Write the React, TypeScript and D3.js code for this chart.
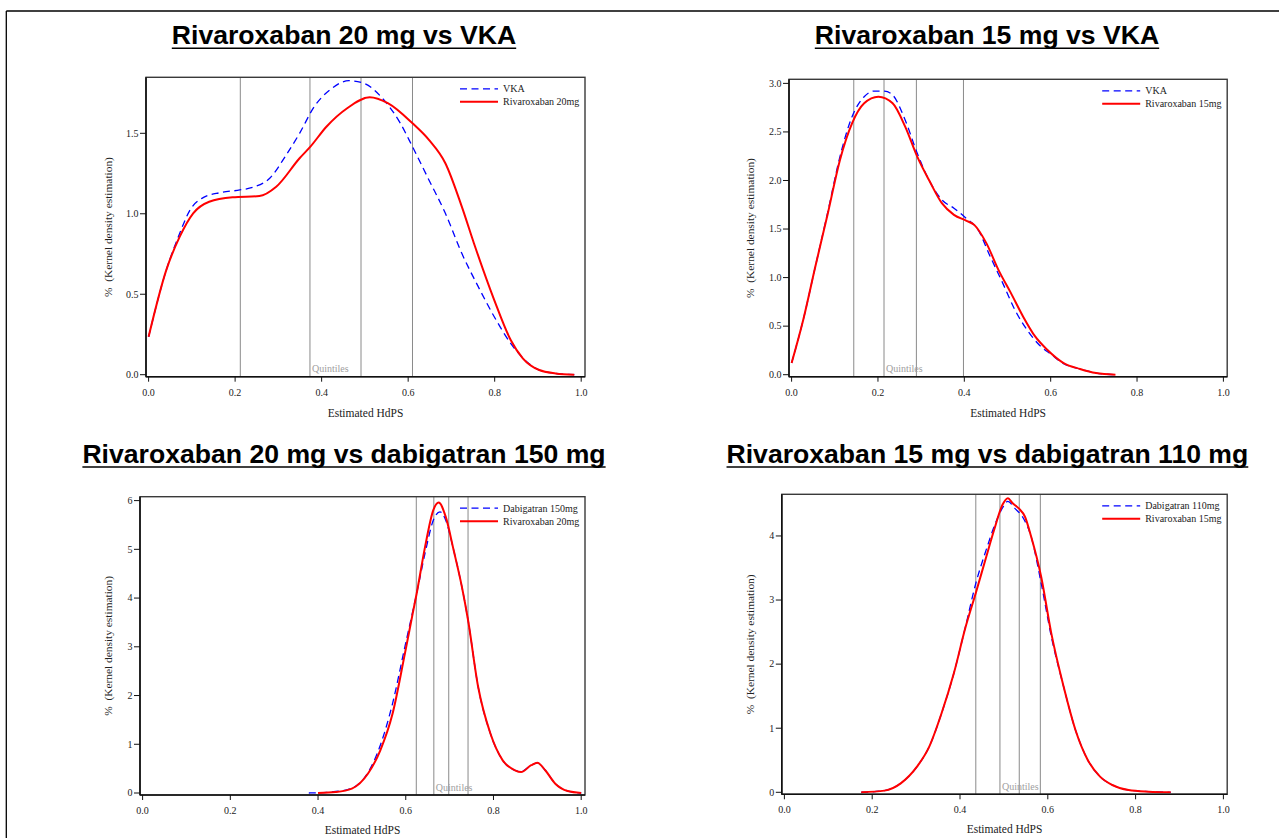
import React, { useLayoutEffect, useRef, useState } from 'react';
import * as d3 from 'd3';

type Pt = [number, number];

// Kernel density curves: [estimated HdPS, density]
const vkaVsR20: Pt[] = [
  [0, 0.236], [0.041, 0.651], [0.072, 0.879], [0.095, 1.02], [0.126, 1.1], [0.165, 1.131],
  [0.211, 1.148], [0.242, 1.165], [0.28, 1.221], [0.318, 1.365], [0.349, 1.5], [0.383, 1.666],
  [0.421, 1.774], [0.463, 1.827], [0.497, 1.811], [0.544, 1.707], [0.582, 1.562], [0.61, 1.417],
  [0.648, 1.21], [0.686, 1.003], [0.724, 0.754], [0.762, 0.547], [0.799, 0.36], [0.837, 0.195],
  [0.865, 0.104], [0.903, 0.029], [0.941, 0.008], [0.984, 0],
];
const r20VsVka: Pt[] = [
  [0, 0.236], [0.041, 0.651], [0.072, 0.858], [0.103, 1.003], [0.14, 1.075], [0.194, 1.103],
  [0.256, 1.11], [0.295, 1.168], [0.349, 1.345], [0.374, 1.417], [0.411, 1.541], [0.459, 1.656],
  [0.511, 1.724], [0.553, 1.687], [0.61, 1.562], [0.648, 1.459], [0.686, 1.314], [0.724, 1.044],
  [0.752, 0.817], [0.799, 0.464], [0.837, 0.216], [0.865, 0.102], [0.903, 0.029], [0.941, 0.008],
  [0.984, 0],
];
const vkaVsR15: Pt[] = [
  [0, 0.12], [0.027, 0.566], [0.055, 1.114], [0.084, 1.68], [0.112, 2.246], [0.14, 2.657],
  [0.168, 2.863], [0.19, 2.92], [0.215, 2.92], [0.234, 2.88], [0.263, 2.623], [0.291, 2.28],
  [0.32, 1.989], [0.348, 1.8], [0.376, 1.715], [0.404, 1.612], [0.432, 1.49], [0.46, 1.217],
  [0.489, 0.943], [0.517, 0.669], [0.545, 0.463], [0.573, 0.309], [0.602, 0.206], [0.63, 0.113],
  [0.668, 0.059], [0.705, 0.017], [0.75, 0],
];
const r15VsVka: Pt[] = [
  [0, 0.12], [0.027, 0.566], [0.055, 1.114], [0.084, 1.663], [0.112, 2.212], [0.14, 2.589],
  [0.168, 2.795], [0.201, 2.863], [0.234, 2.795], [0.263, 2.555], [0.291, 2.246], [0.32, 1.989],
  [0.348, 1.766], [0.376, 1.646], [0.404, 1.587], [0.423, 1.543], [0.451, 1.355], [0.479, 1.08],
  [0.508, 0.84], [0.536, 0.6], [0.564, 0.394], [0.592, 0.257], [0.63, 0.12], [0.668, 0.059],
  [0.705, 0.017], [0.75, 0],
];
const dabi150: Pt[] = [
  [0.379, 0], [0.43, 0.02], [0.477, 0.1], [0.514, 0.42], [0.542, 0.98], [0.57, 1.84],
  [0.598, 3.0], [0.625, 4.1], [0.644, 4.92], [0.663, 5.6], [0.678, 5.77], [0.691, 5.6],
  [0.709, 4.99], [0.728, 4.23], [0.742, 3.55], [0.765, 2.18], [0.793, 1.22], [0.821, 0.67],
  [0.849, 0.466], [0.863, 0.44], [0.886, 0.57], [0.9, 0.62], [0.918, 0.466], [0.941, 0.19],
  [0.969, 0.04], [1.0, 0],
];
const r20VsDabi: Pt[] = [
  [0.4, 0], [0.44, 0.02], [0.477, 0.09], [0.514, 0.4], [0.542, 0.877], [0.57, 1.63],
  [0.598, 2.86], [0.616, 3.69], [0.625, 4.1], [0.644, 5.05], [0.663, 5.81], [0.675, 5.96],
  [0.691, 5.67], [0.709, 4.99], [0.728, 4.23], [0.742, 3.55], [0.765, 2.18], [0.793, 1.22],
  [0.821, 0.67], [0.849, 0.466], [0.863, 0.43], [0.886, 0.57], [0.9, 0.62], [0.918, 0.466],
  [0.941, 0.19], [0.969, 0.04], [1.0, 0],
];
const dabi110: Pt[] = [
  [0.175, 0], [0.228, 0.026], [0.265, 0.14], [0.302, 0.4], [0.33, 0.713], [0.358, 1.233],
  [0.386, 1.857], [0.413, 2.6], [0.436, 3.26], [0.46, 3.79], [0.478, 4.15], [0.497, 4.44],
  [0.509, 4.54], [0.525, 4.43], [0.544, 4.28], [0.562, 3.99], [0.585, 3.26], [0.608, 2.43],
  [0.636, 1.65], [0.663, 0.973], [0.691, 0.505], [0.719, 0.245], [0.747, 0.114], [0.784, 0.036],
  [0.83, 0.01], [0.88, 0],
];
const r15VsDabi: Pt[] = [
  [0.175, 0], [0.228, 0.026], [0.265, 0.14], [0.302, 0.4], [0.33, 0.713], [0.358, 1.233],
  [0.386, 1.857], [0.413, 2.586], [0.436, 3.11], [0.46, 3.68], [0.478, 4.1], [0.497, 4.49],
  [0.509, 4.59], [0.52, 4.51], [0.534, 4.43], [0.548, 4.3], [0.562, 3.99], [0.585, 3.36],
  [0.608, 2.48], [0.636, 1.65], [0.663, 0.973], [0.691, 0.505], [0.719, 0.245], [0.747, 0.114],
  [0.784, 0.036], [0.83, 0.01], [0.88, 0],
];

// Quintile cut points of the estimated HdPS
const quintilesR20Vka = [0.212, 0.373, 0.491, 0.61];
const quintilesR15Vka = [0.144, 0.214, 0.289, 0.398];
const quintilesR20Dabi = [0.624, 0.664, 0.698, 0.742];
const quintilesR15Dabi = [0.436, 0.491, 0.535, 0.583];

const xTicks = [0, 0.2, 0.4, 0.6, 0.8, 1.0];
const yTicksR20Vka = [0, 0.5, 1.0, 1.5];
const yTicksR15Vka = [0, 0.5, 1.0, 1.5, 2.0, 2.5, 3.0];
const yTicksR20Dabi = [0, 1, 2, 3, 4, 5, 6];
const yTicksR15Dabi = [0, 1, 2, 3, 4];

const SERIF = "'Liberation Serif', 'DejaVu Serif', serif";
const SANS = "'Liberation Sans', Arial, sans-serif";

// Bold centred title with a thin rule under it, sized to the rendered text
function Title({ text, x, y }: { text: string; x: number; y: number }) {
  const ref = useRef<SVGTextElement>(null);
  const [w, setW] = useState(0);
  useLayoutEffect(() => {
    if (ref.current) setW(ref.current.getComputedTextLength());
  }, [text]);
  return (
    <g>
      <text
        ref={ref}
        x={x}
        y={y}
        textAnchor="middle"
        fontFamily={SANS}
        fontWeight="bold"
        fontSize={26.6}
        fill="#000"
      >
        {text}
      </text>
      {w > 0 && (
        <line x1={x - w / 2} x2={x + w / 2} y1={y + 4.3} y2={y + 4.3} stroke="#000" strokeWidth={1.4} />
      )}
    </g>
  );
}

interface PanelProps {
  id: string;
  title: string;
  titleX: number;
  titleY: number;
  frame: { x0: number; y0: number; x1: number; y1: number };
  yMax: number;
  yTicks: number[];
  yFmt: (v: number) => string;
  yLabelX: number;
  xLabelDy: number;
  quintiles: number[];
  blue: Pt[];
  red: Pt[];
  blueLabel: string;
  redLabel: string;
}

function Panel(p: PanelProps) {
  const { x0, y0, x1, y1 } = p.frame;
  const x = d3.scaleLinear().domain([0, 1]).range([x0 + 2.6, x1 - 3.8]);
  const y = d3.scaleLinear().domain([0, p.yMax]).range([y1 - 2, y0]);
  const line = d3
    .line<Pt>()
    .x((d) => x(d[0]))
    .y((d) => y(d[1]))
    .curve(d3.curveMonotoneX);
  const cx = (x0 + x1) / 2;
  const cy = (y0 + y1) / 2;
  const lx = x1 - 125;
  return (
    <g>
      <Title text={p.title} x={p.titleX} y={p.titleY} />
      <clipPath id={`clip-${p.id}`}>
        <rect x={x0} y={y0} width={x1 - x0} height={y1 - y0} />
      </clipPath>
      {p.quintiles.map((q, i) => (
        <line key={i} x1={x(q)} x2={x(q)} y1={y0} y2={y1} stroke="#8a8a8a" strokeWidth={1} />
      ))}
      <text
        x={x(p.quintiles[1]) + 2}
        y={y1 - 4.4}
        fontFamily={SERIF}
        fontSize={10}
        fill="#a0a0a0"
      >
        Quintiles
      </text>
      <g clipPath={`url(#clip-${p.id})`}>
        <path d={line(p.blue) || ''} fill="none" stroke="#0000ff" strokeWidth={1.3} strokeDasharray="7,4.5" />
        <path d={line(p.red) || ''} fill="none" stroke="#ff0000" strokeWidth={2} />
      </g>
      <rect x={x0} y={y0} width={x1 - x0} height={y1 - y0} fill="none" stroke="#3a3a3a" strokeWidth={1.4} />
      <line x1={x0} x2={x0} y1={y0} y2={y1} stroke="#111" strokeWidth={1.6} />
      <line x1={x0} x2={x1} y1={y1} y2={y1} stroke="#111" strokeWidth={1.6} />
      {xTicks.map((t) => (
        <g key={`x${t}`}>
          <line x1={x(t)} x2={x(t)} y1={y1} y2={y1 + 5} stroke="#111" strokeWidth={1} />
          <text x={x(t)} y={y1 + 18.8} textAnchor="middle" fontFamily={SERIF} fontSize={10} fill="#222">
            {t.toFixed(1)}
          </text>
        </g>
      ))}
      {p.yTicks.map((t) => (
        <g key={`y${t}`}>
          <line x1={x0 - 6} x2={x0} y1={y(t)} y2={y(t)} stroke="#111" strokeWidth={1} />
          <text
            x={x0 - 7.5}
            y={y(t)}
            dy="0.33em"
            textAnchor="end"
            fontFamily={SERIF}
            fontSize={10}
            fill="#222"
          >
            {p.yFmt(t)}
          </text>
        </g>
      ))}
      <text x={cx} y={y1 + p.xLabelDy} textAnchor="middle" fontFamily={SERIF} fontSize={11.5} fill="#222">
        Estimated HdPS
      </text>
      <text
        transform={`translate(${p.yLabelX},${cy}) rotate(-90)`}
        textAnchor="middle"
        dy="0.33em"
        fontFamily={SERIF}
        fontSize={11.4}
        fill="#222"
        style={{ whiteSpace: 'pre' }}
      >
        {'%  (Kernel density estimation)'}
      </text>
      <line x1={lx} x2={lx + 38} y1={y0 + 11.5} y2={y0 + 11.5} stroke="#0000ff" strokeWidth={1.3} strokeDasharray="7,4.5" />
      <text x={lx + 43} y={y0 + 15} fontFamily={SERIF} fontSize={10} fill="#222">
        {p.blueLabel}
      </text>
      <line x1={lx} x2={lx + 38} y1={y0 + 24.5} y2={y0 + 24.5} stroke="#ff0000" strokeWidth={2} />
      <text x={lx + 43} y={y0 + 28} fontFamily={SERIF} fontSize={10} fill="#222">
        {p.redLabel}
      </text>
    </g>
  );
}

const oneDec = (v: number) => v.toFixed(1);
const noDec = (v: number) => v.toFixed(0);

export default function App() {
  return (
    <svg
      width={1279}
      height={838}
      style={{ position: 'absolute', left: 0, top: 0, background: '#fff' }}
    >
      <rect x={0} y={0} width={1279} height={838} fill="#fff" />
      <line x1={6.3} x2={1279} y1={11} y2={11} stroke="#000" strokeWidth={1.3} />
      <line x1={6.3} x2={6.3} y1={11} y2={838} stroke="#000" strokeWidth={1.3} />
      <Panel
        id="p1"
        title="Rivaroxaban 20 mg vs VKA"
        titleX={344}
        titleY={44}
        frame={{ x0: 146, y0: 77.3, x1: 585, y1: 376.7 }}
        yMax={1.848}
        yTicks={yTicksR20Vka}
        yFmt={oneDec}
        yLabelX={108}
        xLabelDy={40}
        quintiles={quintilesR20Vka}
        blue={vkaVsR20}
        red={r20VsVka}
        blueLabel="VKA"
        redLabel="Rivaroxaban 20mg"
      />
      <Panel
        id="p2"
        title="Rivaroxaban 15 mg vs VKA"
        titleX={987}
        titleY={44}
        frame={{ x0: 789, y0: 79.3, x1: 1227.2, y1: 376.7 }}
        yMax={3.042}
        yTicks={yTicksR15Vka}
        yFmt={oneDec}
        yLabelX={750.5}
        xLabelDy={40}
        quintiles={quintilesR15Vka}
        blue={vkaVsR15}
        red={r15VsVka}
        blueLabel="VKA"
        redLabel="Rivaroxaban 15mg"
      />
      <Panel
        id="p3"
        title="Rivaroxaban 20 mg vs dabigatran 150 mg"
        titleX={344}
        titleY={462.7}
        frame={{ x0: 140, y0: 496.7, x1: 585, y1: 795 }}
        yMax={6.08}
        yTicks={yTicksR20Dabi}
        yFmt={noDec}
        yLabelX={108}
        xLabelDy={38.5}
        quintiles={quintilesR20Dabi}
        blue={dabi150}
        red={r20VsDabi}
        blueLabel="Dabigatran 150mg"
        redLabel="Rivaroxaban 20mg"
      />
      <Panel
        id="p4"
        title="Rivaroxaban 15 mg vs dabigatran 110 mg"
        titleX={987.4}
        titleY={462.7}
        frame={{ x0: 781.8, y0: 494.3, x1: 1227.2, y1: 794.3 }}
        yMax={4.65}
        yTicks={yTicksR15Dabi}
        yFmt={noDec}
        yLabelX={750.5}
        xLabelDy={38.5}
        quintiles={quintilesR15Dabi}
        blue={dabi110}
        red={r15VsDabi}
        blueLabel="Dabigatran 110mg"
        redLabel="Rivaroxaban 15mg"
      />
    </svg>
  );
}
